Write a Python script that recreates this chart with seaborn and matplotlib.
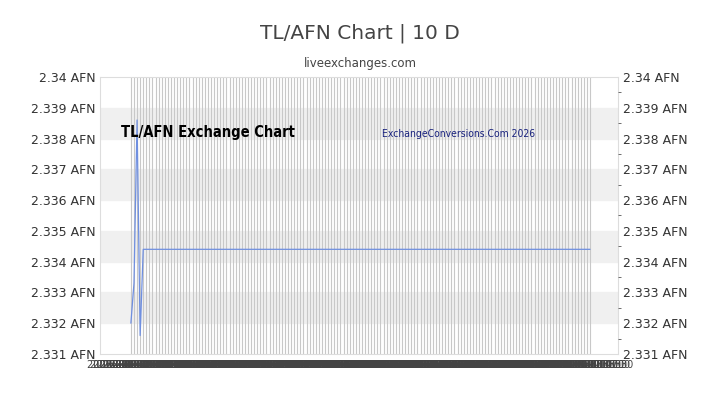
import numpy as np
import pandas as pd
import matplotlib
matplotlib.use("Agg")
import matplotlib.pyplot as plt
import seaborn as sns

sns.set_style("white")
plt.rcParams['font.family'] = ['DejaVu Sans']

# rate readings: a short spike at the start, then flat
rates = [2.3320, 2.3333, 2.3386, 2.3316] + [2.3344] * 146
idx = list(range(len(rates)))
dates = pd.date_range("2026-01-01", periods=len(rates), freq="90min")
tick_labels = [d.strftime("%Y-%m-%d %H:%M") for d in dates]
y_ticks = [2.331, 2.332, 2.333, 2.334, 2.335, 2.336, 2.337, 2.338, 2.339, 2.34]
df = pd.DataFrame({"i": idx, "rate": rates})

fig = plt.figure(figsize=(7.2, 4.05), dpi=100)
ax = fig.add_axes([0.139, 0.126, 0.719, 0.684])

for k, y0 in enumerate(y_ticks[:-1]):
    if k % 2 == 1:
        ax.axhspan(y0, y0 + 0.001, color="#f0f0f0", zorder=0)
for i in idx:
    ax.axvline(i, color="#c8c8c8", lw=0.8, zorder=1)

sns.lineplot(data=df, x="i", y="rate", ax=ax, color="#6f8fe0", lw=0.9, zorder=3)

ax.set_xlim(-10, len(rates) + 8)
ax.set_ylim(2.331, 2.34)
ax.set_yticks(y_ticks)
ax.set_yticklabels([f"{v:g} AFN" for v in y_ticks], fontsize=9, color="#333333")
ax.set_xticks(idx)
ax.set_xticklabels(tick_labels, fontsize=7, color="#444444")
ax.tick_params(axis="x", length=0, pad=4)
ax.tick_params(axis="y", length=0)
ax.set_xlabel("")
ax.set_ylabel("")
for s in ax.spines.values():
    s.set_color("#dddddd")

ax2 = ax.twinx()
ax2.set_ylim(2.331, 2.34)
ax2.set_yticks(y_ticks)
ax2.set_yticklabels([f"{v:g} AFN" for v in y_ticks], fontsize=9, color="#333333")
ax2.set_yticks(np.arange(2.331, 2.3401, 0.0005), minor=True)
ax2.tick_params(axis="y", which="major", length=0)
ax2.tick_params(axis="y", which="minor", length=2, color="#555555")
for s in ax2.spines.values():
    s.set_visible(False)

fig.text(0.5, 0.905, "TL/AFN Chart | 10 D", ha="center", fontsize=14.5, color="#444444")
fig.text(0.5, 0.835, "liveexchanges.com", ha="center", fontsize=8.5, color="#444444")
ax.text(0.04, 0.785, "TL/AFN Exchange Chart", transform=ax.transAxes, fontsize=10.5,
        fontweight="bold", fontstretch="condensed", color="black", zorder=5)
ax.text(0.545, 0.785, "ExchangeConversions.Com 2026", transform=ax.transAxes, fontsize=7.5,
        fontstretch="condensed", color="#1a237e", zorder=5)

fig.savefig("out.png", dpi=100)
